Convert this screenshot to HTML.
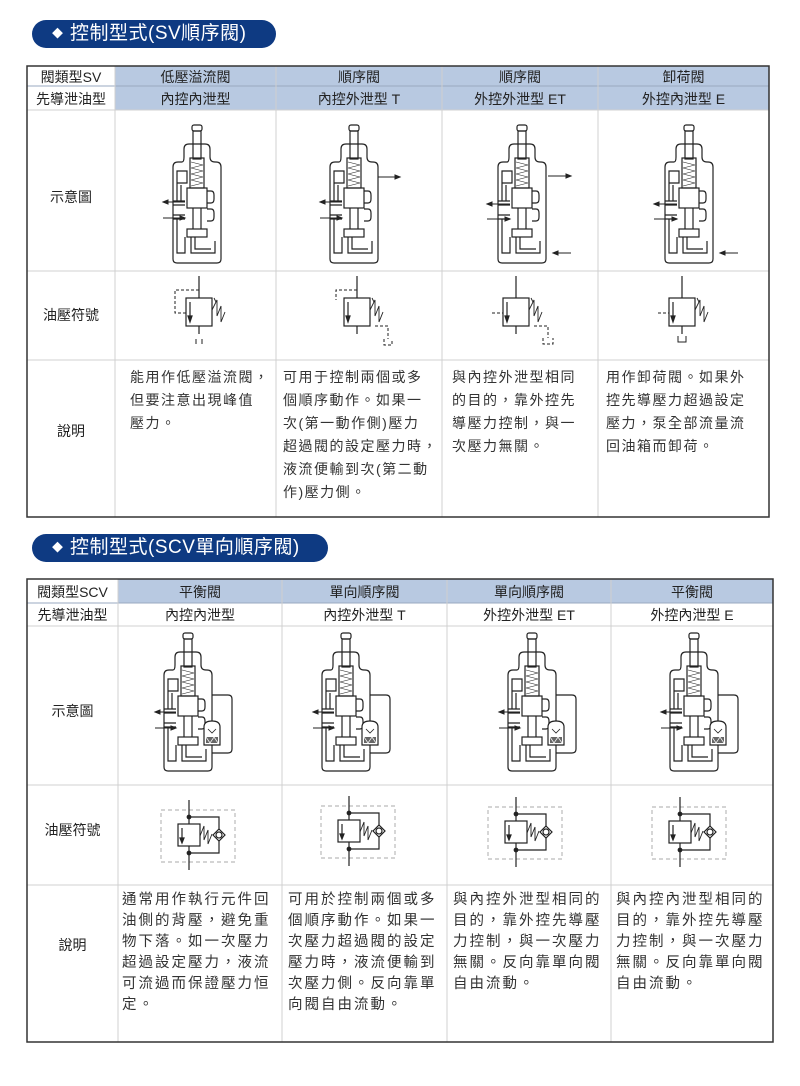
<!DOCTYPE html>
<html><head><meta charset="utf-8">
<style>
body{margin:0;background:#fff;}
#p{position:relative;width:800px;height:1086px;overflow:hidden;font-family:"Liberation Sans","Noto Sans CJK TC",sans-serif;color:#333;}
.a{position:absolute;white-space:nowrap;}
.pill{position:absolute;background:#0e3a82;color:#fff;border-radius:15px;font-size:19px;line-height:28px;height:28px;letter-spacing:0.5px;}
.h{position:absolute;text-align:center;font-size:14px;color:#222;white-space:nowrap;}
.t1{position:absolute;font-size:14px;letter-spacing:1.5px;line-height:23px;white-space:nowrap;color:#333;}
.t2{position:absolute;font-size:14.5px;letter-spacing:2px;line-height:21px;white-space:nowrap;color:#333;}
</style></head><body><div id="p">
<svg width="800" height="1086" style="position:absolute;left:0;top:0">
<defs>
<g id="valve" fill="none" stroke="#222" stroke-width="1.2">
<path d="M-24,42 Q-24,37 -19,37 H-15 Q-13,37 -13,32 V24 Q-13,19 -8,19 H8 Q13,19 13,24 V32 Q13,37 18,37 H19 Q24,37 24,42 V134 Q24,138 20,138 H-20 Q-24,138 -24,134 Z" fill="#fff"/>
<rect x="-5" y="0" width="10" height="6" rx="2"/>
<rect x="-4" y="6" width="8" height="28"/>
<rect x="-7" y="33" width="14" height="30"/>
<path d="M-6,37 L6,40 L-6,43 L6,46 L-6,49 L6,52 L-6,55 L6,58 L-6,61" stroke-width="0.6"/>
<rect x="-10" y="63" width="20" height="20"/>
<path d="M-4,83 V104 M4,83 V104"/>
<rect x="-10" y="104" width="20" height="8"/>
<path d="M-20,46 H-10 V58 H-20 Z M-20,46 V76 M-24,76 H-12 M-24,80 H-12 M-24,90 H-12 M-24,94 H-12 M-20,94 V128 H-12 V112 M-16,60 V76"/>
<path d="M10,66 H14 Q17,66 17,70 V74 Q17,78 14,78 H10 M10,84 H14 Q17,84 17,88 V92 Q17,96 14,96 H10"/>
<path d="M-6,112 V128 H18 V116 M-2,112 V124 H14"/>
</g>
<g id="ext" fill="none" stroke="#222" stroke-width="1.2">
<path d="M24,62 H40 Q44,62 44,66 V116 Q44,120 40,120 H24"/>
<path d="M16,94 Q16,88 24,88 Q32,88 32,94 V112 H16 Z" fill="#fff"/>
<path d="M20,96 L24,100 L28,96" stroke-width="0.8"/>
<rect x="18" y="104" width="12" height="6" fill="#666" stroke="none"/>
<path d="M18,104 L22,110 L26,104 L30,110" stroke="#fff" stroke-width="0.7"/>
</g>
<g id="sym" fill="none" stroke="#222" stroke-width="1.2">
<line x1="0" y1="-36" x2="0" y2="-14"/>
<line x1="0" y1="14" x2="0" y2="22"/>
<rect x="-13" y="-14" width="26" height="28" fill="#fff"/>
<line x1="-9" y1="-10" x2="-9" y2="8"/>
<path d="M-11,4 L-9,10 L-7,4 Z" fill="#222"/>
<path d="M13,-2 L18,-12 L18,4 L22,-6 L22,10 L26,0" stroke-width="0.9"/>
<path d="M15,-14 L17,-10" stroke-width="0.9"/>
</g>
<g id="sym2" fill="none" stroke="#222" stroke-width="1.2">
<rect x="-28" y="-24" width="74" height="52" stroke="#bbb" stroke-dasharray="4,3"/>
<line x1="0" y1="-34" x2="0" y2="36"/>
<path d="M0,-17 H30 V19 H0"/>
<circle cx="0" cy="-17" r="1.8" fill="#222"/><circle cx="0" cy="19" r="1.8" fill="#222"/>
<rect x="-11" y="-10" width="22" height="22" fill="#fff"/>
<line x1="-7" y1="-6" x2="-7" y2="8"/>
<path d="M-9,4 L-7,9 L-5,4 Z" fill="#222"/>
<path d="M11,2 L15,-8 L15,6 L19,-4 L19,10 L23,0" stroke-width="0.9"/>
<path d="M30,-5 L36,1 L30,7 L24,1 Z" fill="#fff"/>
<circle cx="30" cy="1" r="3" fill="#fff"/>
</g>
</defs>

<rect x="115" y="66" width="654" height="44" fill="#b8c9e1"/>
<g stroke="#d0d0d0" stroke-width="1">
<line x1="27" y1="86" x2="769" y2="86" stroke="#9aa9c0"/>
<line x1="27" y1="110" x2="769" y2="110"/>
<line x1="27" y1="271" x2="769" y2="271"/>
<line x1="27" y1="360" x2="769" y2="360"/>
<line x1="115" y1="66" x2="115" y2="517"/>
<line x1="276" y1="66" x2="276" y2="517"/>
<line x1="442" y1="66" x2="442" y2="517"/>
<line x1="598" y1="66" x2="598" y2="517"/>
</g>
<rect x="27" y="66" width="742" height="451" fill="none" stroke="#333" stroke-width="1.5"/>

<rect x="118" y="579" width="655" height="24" fill="#b8c9e1"/>
<g stroke="#d0d0d0" stroke-width="1">
<line x1="27" y1="603" x2="773" y2="603" stroke="#9aa9c0"/>
<line x1="27" y1="626" x2="773" y2="626"/>
<line x1="27" y1="785" x2="773" y2="785"/>
<line x1="27" y1="885" x2="773" y2="885"/>
<line x1="118" y1="579" x2="118" y2="1042"/>
<line x1="282" y1="579" x2="282" y2="1042"/>
<line x1="447" y1="579" x2="447" y2="1042"/>
<line x1="611" y1="579" x2="611" y2="1042"/>
</g>
<rect x="27" y="579" width="746" height="463" fill="none" stroke="#333" stroke-width="1.5"/>

<g stroke="#222" stroke-width="1" fill="#222">
<use href="#valve" x="197" y="125"/>
<path d="M185,202 H163 M185,218 H163" fill="none"/><path d="M163,202 l5,-2 v4z M185,218 l-5,-2 v4z"/>
<use href="#valve" x="354" y="125"/>
<path d="M342,202 H320 M342,218 H320 M378,177 H400" fill="none"/><path d="M320,202 l5,-2 v4z M342,218 l-5,-2 v4z M400,177 l-5,-2 v4z"/>
<use href="#valve" x="522" y="125"/>
<path d="M510,204 H487 M510,219 H487 M548,176 H571 M571,253 H553" fill="none"/><path d="M487,204 l5,-2 v4z M510,219 l-5,-2 v4z M571,176 l-5,-2 v4z M553,253 l5,-2 v4z"/>
<use href="#valve" x="689" y="125"/>
<path d="M677,204 H654 M677,219 H654 M738,253 H720" fill="none"/><path d="M654,204 l5,-2 v4z M677,219 l-5,-2 v4z M720,253 l5,-2 v4z"/>
</g>
<use href="#sym" x="199" y="312"/>
<path d="M199,290 H175 V313 H186" fill="none" stroke="#222" stroke-dasharray="3,2"/>
<path d="M196,339 v5 M202,339 v5" stroke="#222"/>
<use href="#sym" x="357" y="312"/>
<path d="M357,290 H336 V300" fill="none" stroke="#222" stroke-dasharray="3,2"/>
<path d="M375,326 H388 V339 M384,339 V345 H392 V339" fill="none" stroke="#222" stroke-dasharray="3,2"/>
<use href="#sym" x="516" y="312"/>
<path d="M492,313 H503" stroke="#222" stroke-dasharray="3,2"/>
<path d="M534,326 H548 V338 M543,338 V344 H553 V338" fill="none" stroke="#222" stroke-dasharray="3,2"/>
<use href="#sym" x="682" y="312"/>
<path d="M658,313 H669" stroke="#222" stroke-dasharray="3,2"/>
<path d="M678,336 v6 h8 v-6" fill="none" stroke="#222"/>

<g stroke="#222" stroke-width="1" fill="#222">
<use href="#valve" x="188" y="633"/><use href="#ext" x="188" y="633"/>
<path d="M176,712 H155 M176,728 H155" fill="none"/><path d="M155,712 l5,-2 v4z M176,728 l-5,-2 v4z"/>
<use href="#valve" x="346" y="633"/><use href="#ext" x="346" y="633"/>
<path d="M334,712 H313 M334,728 H313" fill="none"/><path d="M313,712 l5,-2 v4z M334,728 l-5,-2 v4z"/>
<use href="#valve" x="532" y="633"/><use href="#ext" x="532" y="633"/>
<path d="M520,712 H499 M520,728 H499" fill="none"/><path d="M499,712 l5,-2 v4z M520,728 l-5,-2 v4z"/>
<use href="#valve" x="694" y="633"/><use href="#ext" x="694" y="633"/>
<path d="M682,712 H661 M682,728 H661" fill="none"/><path d="M661,712 l5,-2 v4z M682,728 l-5,-2 v4z"/>
</g>
<use href="#sym2" x="189" y="834"/>
<use href="#sym2" x="349" y="830"/>
<use href="#sym2" x="516" y="831"/>
<use href="#sym2" x="680" y="831"/>
</svg>

<div class="pill" style="left:32px;top:20px;width:244px;"><span style="position:absolute;left:20px;font-size:11px">◆</span><span style="position:absolute;left:38px">控制型式(SV順序閥)</span></div>
<div class="pill" style="left:32px;top:534px;width:296px;"><span style="position:absolute;left:20px;font-size:11px">◆</span><span style="position:absolute;left:38px">控制型式(SCV單向順序閥)</span></div>

<div class="h" style="left:27px;top:67px;width:88px;">閥類型SV</div>
<div class="h" style="left:27px;top:89px;width:88px;">先導泄油型</div>
<div class="h" style="left:115px;top:67px;width:161px;">低壓溢流閥</div>
<div class="h" style="left:115px;top:89px;width:161px;">內控內泄型</div>
<div class="h" style="left:276px;top:67px;width:166px;">順序閥</div>
<div class="h" style="left:276px;top:89px;width:166px;">內控外泄型 T</div>
<div class="h" style="left:442px;top:67px;width:156px;">順序閥</div>
<div class="h" style="left:442px;top:89px;width:156px;">外控外泄型 ET</div>
<div class="h" style="left:598px;top:67px;width:171px;">卸荷閥</div>
<div class="h" style="left:598px;top:89px;width:171px;">外控內泄型 E</div>
<div class="h" style="left:27px;top:187px;width:88px;">示意圖</div>
<div class="h" style="left:27px;top:305px;width:88px;">油壓符號</div>
<div class="h" style="left:27px;top:421px;width:88px;">說明</div>

<div class="t1" style="left:130px;top:366px;">能用作低壓溢流閥，<br>但要注意出現峰值<br>壓力。</div>
<div class="t1" style="left:283px;top:366px;">可用于控制兩個或多<br>個順序動作。如果一<br>次(第一動作側)壓力<br>超過閥的設定壓力時，<br>液流便輸到次(第二動<br>作)壓力側。</div>
<div class="t1" style="left:452px;top:366px;">與內控外泄型相同<br>的目的，靠外控先<br>導壓力控制，與一<br>次壓力無關。</div>
<div class="t1" style="left:606px;top:366px;">用作卸荷閥。如果外<br>控先導壓力超過設定<br>壓力，泵全部流量流<br>回油箱而卸荷。</div>

<div class="h" style="left:27px;top:582px;width:91px;">閥類型SCV</div>
<div class="h" style="left:27px;top:605px;width:91px;">先導泄油型</div>
<div class="h" style="left:118px;top:582px;width:164px;">平衡閥</div>
<div class="h" style="left:118px;top:605px;width:164px;">內控內泄型</div>
<div class="h" style="left:282px;top:582px;width:165px;">單向順序閥</div>
<div class="h" style="left:282px;top:605px;width:165px;">內控外泄型 T</div>
<div class="h" style="left:447px;top:582px;width:164px;">單向順序閥</div>
<div class="h" style="left:447px;top:605px;width:164px;">外控外泄型 ET</div>
<div class="h" style="left:611px;top:582px;width:162px;">平衡閥</div>
<div class="h" style="left:611px;top:605px;width:162px;">外控內泄型 E</div>
<div class="h" style="left:27px;top:701px;width:91px;">示意圖</div>
<div class="h" style="left:27px;top:820px;width:91px;">油壓符號</div>
<div class="h" style="left:27px;top:935px;width:91px;">說明</div>

<div class="t2" style="left:122px;top:890px;">通常用作執行元件回<br>油側的背壓，避免重<br>物下落。如一次壓力<br>超過設定壓力，液流<br>可流過而保證壓力恒<br>定。</div>
<div class="t2" style="left:288px;top:890px;">可用於控制兩個或多<br>個順序動作。如果一<br>次壓力超過閥的設定<br>壓力時，液流便輸到<br>次壓力側。反向靠單<br>向閥自由流動。</div>
<div class="t2" style="left:453px;top:890px;">與內控外泄型相同的<br>目的，靠外控先導壓<br>力控制，與一次壓力<br>無關。反向靠單向閥<br>自由流動。</div>
<div class="t2" style="left:616px;top:890px;">與內控內泄型相同的<br>目的，靠外控先導壓<br>力控制，與一次壓力<br>無關。反向靠單向閥<br>自由流動。</div>
</div></body></html>
